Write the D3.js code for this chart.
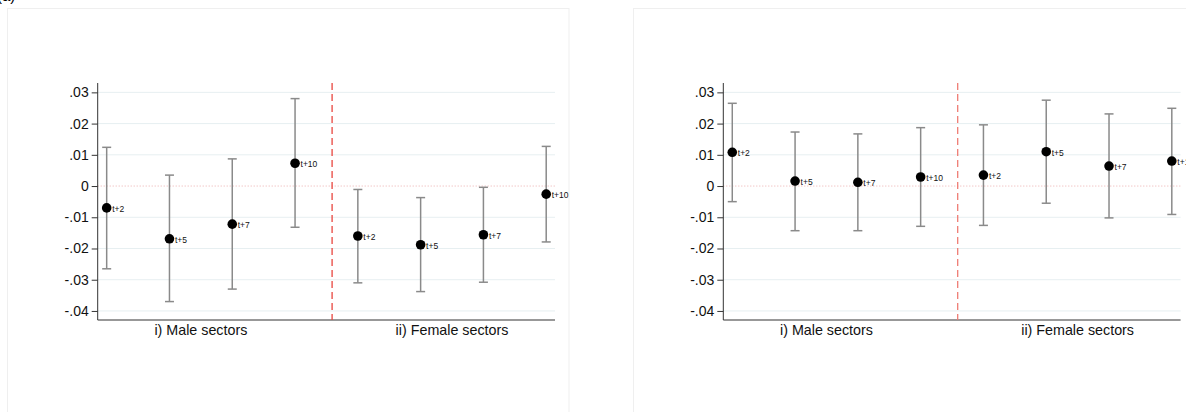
<!DOCTYPE html>
<meta charset="utf-8">
<script src="https://d3js.org/d3.v7.min.js"></script>
<style>
  body { margin: 0; background: #fff; }
  text { font-family: "Liberation Sans", Arial, Helvetica, sans-serif; }
</style>
<div id="my_dataviz"></div>
<script>

// ---------- data ----------
var horizons = ["t+2", "t+5", "t+7", "t+10"];
var sectors = ["i) Male sectors", "ii) Female sectors"];
var yTicks = [0.03, 0.02, 0.01, 0, -0.01, -0.02, -0.03, -0.04];
var yTickLabels = [".03", ".02", ".01", "0", "-.01", "-.02", "-.03", "-.04"];

// left panel: male t+2..t+10, then female t+2..t+10
var leftEst = [-0.0070, -0.0169, -0.0122, 0.0073, -0.0160, -0.0188, -0.0156, -0.0026];
var leftLo  = [-0.0265, -0.0370, -0.0330, -0.0132, -0.0310, -0.0338, -0.0308, -0.0179];
var leftHi  = [ 0.0124,  0.0035,  0.0087,  0.0280, -0.0011, -0.0037, -0.0004,  0.0127];

// right panel
var rightEst = [0.0108, 0.0016, 0.0012, 0.0029, 0.0035, 0.0110, 0.0064, 0.0080];
var rightLo  = [-0.0050, -0.0143, -0.0143, -0.0129, -0.0126, -0.0055, -0.0102, -0.0091];
var rightHi  = [0.0265, 0.0173, 0.0167, 0.0187, 0.0196, 0.0275, 0.0231, 0.0249];

// ---------- page ----------
var W = 1186, H = 412;
var svg = d3.select("#my_dataviz").append("svg")
  .attr("width", W).attr("height", H);

// panel letter, mostly cut off at the top like in the source
svg.append("text").attr("x", -3).attr("y", 1).style("font-size", "15px").text("(a)");

var plotW = 457.3, plotH = 237;

var x = d3.scaleLinear().domain([0.857, 8.14]).range([0, plotW]);
var y = d3.scaleLinear().domain([-0.0429, 0.033]).range([plotH, 0]);

function drawPanel(boxX, left, est, lo, hi, dashColor) {
  // faint outer frame of the graph
  svg.append("rect")
    .attr("x", boxX).attr("y", 8.5)
    .attr("width", 561.5).attr("height", 420)
    .attr("fill", "none").attr("stroke", "#efefef");

  var g = svg.append("g").attr("transform", "translate(" + left + ",83)");

  // gridlines
  g.selectAll(".grid").data(yTicks.filter(function(d){ return d !== 0; }))
    .enter().append("line")
      .attr("x1", 0).attr("x2", plotW)
      .attr("y1", function(d){ return y(d); }).attr("y2", function(d){ return y(d); })
      .attr("stroke", "#e7eff1").attr("stroke-width", 1);

  // zero line
  g.append("line")
    .attr("x1", 0).attr("x2", plotW).attr("y1", y(0)).attr("y2", y(0))
    .attr("stroke", "#e99a9a").attr("stroke-width", 0.8)
    .attr("stroke-dasharray", "1,2");

  // y axis
  var yAxis = d3.axisLeft(y).tickValues(yTicks)
    .tickFormat(function(d, i){ return yTickLabels[i]; })
    .tickSize(6).tickPadding(3);
  var ya = g.append("g").call(yAxis);
  ya.select(".domain").attr("stroke", "#333").attr("d", "M0,0V" + plotH);
  ya.selectAll(".tick line").attr("stroke", "#333");
  ya.selectAll(".tick text").style("font-size", "14px").attr("fill", "#111")
    .style("font-family", "'Liberation Sans', Arial, sans-serif");

  // x axis line
  g.append("line").attr("x1", 0).attr("x2", plotW).attr("y1", plotH).attr("y2", plotH)
    .attr("stroke", "#333").attr("stroke-width", 1);

  // separator
  g.append("line")
    .attr("x1", x(4.59)).attr("x2", x(4.59)).attr("y1", 0).attr("y2", plotH)
    .attr("stroke", dashColor).attr("stroke-width", 1.3)
    .attr("stroke-dasharray", "7,4");

  // sector labels
  g.selectAll(".sec").data(sectors).enter().append("text")
    .attr("x", function(d, i){ return x(2.5 + 4 * i); })
    .attr("y", plotH + 15)
    .attr("text-anchor", "middle")
    .style("font-size", "14.3px").attr("fill", "#111")
    .text(function(d){ return d; });

  var idx = d3.range(est.length);

  // error bars
  var bars = g.selectAll(".ci").data(idx).enter().append("g");
  bars.append("line")
    .attr("x1", function(i){ return x(i + 1); }).attr("x2", function(i){ return x(i + 1); })
    .attr("y1", function(i){ return y(hi[i]); }).attr("y2", function(i){ return y(lo[i]); })
    .attr("stroke", "#8a8a8a").attr("stroke-width", 1.5);
  bars.append("line")
    .attr("x1", function(i){ return x(i + 1) - 4.5; }).attr("x2", function(i){ return x(i + 1) + 4.5; })
    .attr("y1", function(i){ return y(hi[i]); }).attr("y2", function(i){ return y(hi[i]); })
    .attr("stroke", "#8a8a8a").attr("stroke-width", 1.5);
  bars.append("line")
    .attr("x1", function(i){ return x(i + 1) - 4.5; }).attr("x2", function(i){ return x(i + 1) + 4.5; })
    .attr("y1", function(i){ return y(lo[i]); }).attr("y2", function(i){ return y(lo[i]); })
    .attr("stroke", "#8a8a8a").attr("stroke-width", 1.5);

  // point estimates
  g.selectAll(".pt").data(idx).enter().append("circle")
    .attr("cx", function(i){ return x(i + 1); })
    .attr("cy", function(i){ return y(est[i]); })
    .attr("r", 4.8).attr("fill", "#000");

  // horizon labels
  g.selectAll(".lab").data(idx).enter().append("text")
    .attr("x", function(i){ return x(i + 1) + 5.5; })
    .attr("y", function(i){ return y(est[i]) + 4; })
    .style("font-size", "8.5px").attr("fill", "#111")
    .text(function(i){ return horizons[i % 4]; });
}

drawPanel(7.5, 97.7, leftEst, leftLo, leftHi, "#e8463f");
drawPanel(633.5, 723.3, rightEst, rightLo, rightHi, "#ef7c74");

</script>
